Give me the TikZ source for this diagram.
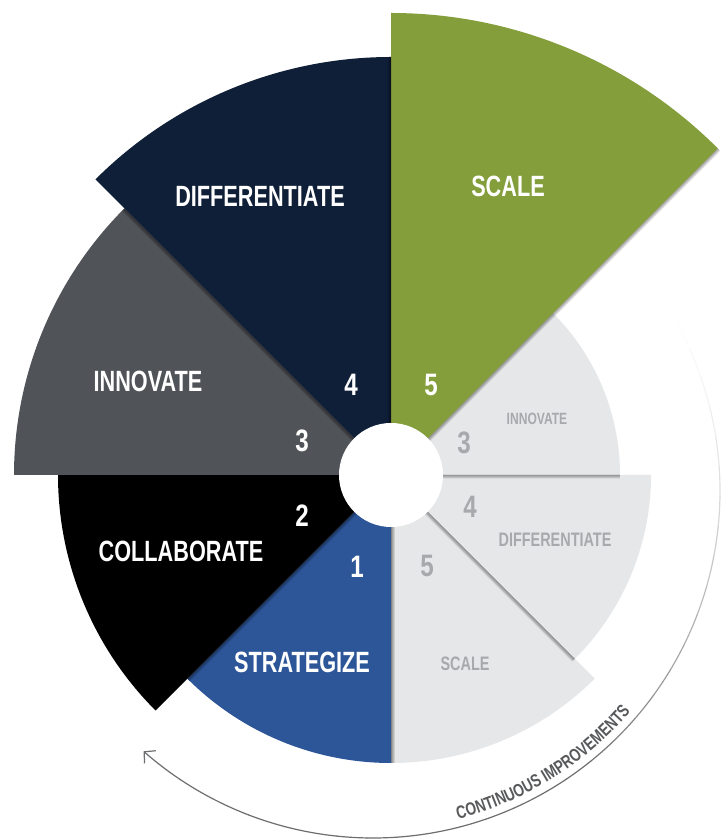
\documentclass[tikz,border=0pt]{standalone}
\usepackage{fontspec}
\usetikzlibrary{arrows.meta,decorations.text}

\newfontfamily\wheelfont{Liberation Sans}[FakeStretch=0.74]
\newfontfamily\digitfont{Liberation Sans}[FakeStretch=0.78]
\newfontfamily\arcfont{Liberation Sans}[FakeStretch=0.76]

\definecolor{wgreen}{HTML}{839E3B}
\definecolor{wnavy}{HTML}{0F1F38}
\definecolor{wgray}{HTML}{505358}
\definecolor{wblue}{HTML}{2D5699}
\definecolor{wlight}{HTML}{E6E7E8}
\definecolor{wlighttext}{HTML}{A7A9AC}
\definecolor{warc}{HTML}{6D6E71}
\definecolor{warctext}{HTML}{58595B}

% wedge of the wheel: start angle, end angle, radius
\newcommand\wheelsector[3]{(C) -- ++(#1:#3) arc[start angle=#1,end angle=#2,radius=#3] -- cycle}
% soft shadow along a radial edge: angle, length
\newcommand\edgeshadow[2]{\foreach \w in {1,...,8}{\draw[line width=\w pt, black, opacity=0.055] (C) -- ++(#1:#2);}}

\begin{document}
\begin{tikzpicture}[x=1pt,y=1pt,
  biglabel/.style={inner sep=0pt, text=white, font=\wheelfont\bfseries\fontsize{29.3}{30}\selectfont},
  biglabelnum/.style={inner sep=0pt, text=white, font=\digitfont\bfseries\fontsize{31}{32}\selectfont},
  smalllabel/.style={inner sep=0pt, text=wlighttext, font=\wheelfont\bfseries\fontsize{19.5}{20}\selectfont},
  smalllabelnum/.style={inner sep=0pt, text=wlighttext, font=\digitfont\bfseries\fontsize{31}{32}\selectfont},
  arclabel/.style={font=\arcfont\bfseries\fontsize{18}{19}\selectfont}]

\useasboundingbox (0,0) rectangle (725,840);
\fill[white] (0,0) rectangle (725,840);

\coordinate (C) at (391,365);
\coordinate (A) at (373,349);

% repeated cycle (light wedges)
\fill[wlight] \wheelsector{-90}{-45}{288pt};
\fill[wlight] \wheelsector{-45}{0}{260pt};
\fill[wlight] \wheelsector{0}{45}{229pt};

% main cycle wedges
\fill[wblue]  \wheelsector{225}{270}{288pt};
\fill[black]  \wheelsector{180}{225}{333pt};
\fill[wgray]  \wheelsector{135}{180}{377pt};
\fill[wnavy]  \wheelsector{90}{135}{418pt};

% edge shadows
\begin{scope}
  \clip \wheelsector{-90}{-45}{288pt};
  \edgeshadow{270}{288pt}
  \edgeshadow{-45}{260pt}
\end{scope}
\begin{scope}
  \clip \wheelsector{-45}{0}{260pt};
  \edgeshadow{0}{229pt}
\end{scope}
\begin{scope}
  \clip \wheelsector{225}{270}{288pt};
  \edgeshadow{225}{333pt}
\end{scope}
\begin{scope}
  \clip \wheelsector{135}{180}{377pt};
  \edgeshadow{135}{418pt}
\end{scope}
\edgeshadow{45}{462pt}

\fill[wgreen] \wheelsector{45}{90}{462pt};
\begin{scope}
  \clip \wheelsector{90}{135}{418pt};
  \edgeshadow{90}{462pt}
\end{scope}

% hub
\fill[white] (C) circle[radius=52pt];

% stage names
\node[biglabel] (lscale)  at (508,654) {SCALE};
\node[biglabel] (ldiff)   at (260,644) {DIFFERENTIATE};
\node[biglabel] (linno)   at (148,459) {INNOVATE};
\node[biglabel] (lcollab) at (181,289) {COLLABORATE};
\node[biglabel] (lstrat)  at (302,178) {STRATEGIZE};

% stage numbers
\node[biglabelnum] (nfive)  at (431,455) {5};
\node[biglabelnum] (nfour)  at (351,455) {4};
\node[biglabelnum] (nthree) at (302,399) {3};
\node[biglabelnum] (ntwo)   at (302,324) {2};
\node[biglabelnum] (none)   at (357,273) {1};

% repeated stages
\node[smalllabel, font=\wheelfont\bfseries\fontsize{16.3}{17}\selectfont] (rinno) at (537,421) {INNOVATE};
\node[smalllabel] (rdiff)  at (555,300) {DIFFERENTIATE};
\node[smalllabel] (rscale) at (465,176) {SCALE};
\node[smalllabelnum] (rthree) at (464,397) {3};
\node[smalllabelnum] (rfour)  at (470,333) {4};
\node[smalllabelnum] (rfive)  at (427,274) {5};

% continuous improvement arrow, fading in from the top
\foreach \a in {34,29,...,-121}{
  \pgfmathsetmacro\t{min(1,(34-\a)/84)}
  \pgfmathsetmacro\p{100*\t^1.5}
  \draw[line width=1.2pt, line cap=round, color=warc!\p!white]
    (A) ++(\a:347pt) arc[start angle=\a, end angle=\a-5, radius=347pt];
}
\draw[line width=1.2pt, color=warc, -{Straight Barb[length=8pt,width=17pt]}]
  (A) ++(-126:347pt) coordinate (arcend) arc[start angle=-126, end angle=-131.4, radius=347pt];

\path[arclabel, decorate, decoration={text along path, text align=center, text color=warctext,
  text={|\arcfont\bfseries\fontsize{18}{19}\selectfont|CONTINUOUS IMPROVEMENTS}}]
  (A) ++(-77:339pt) arc[start angle=-77, end angle=-39, radius=339pt];

\end{tikzpicture}
\end{document}
